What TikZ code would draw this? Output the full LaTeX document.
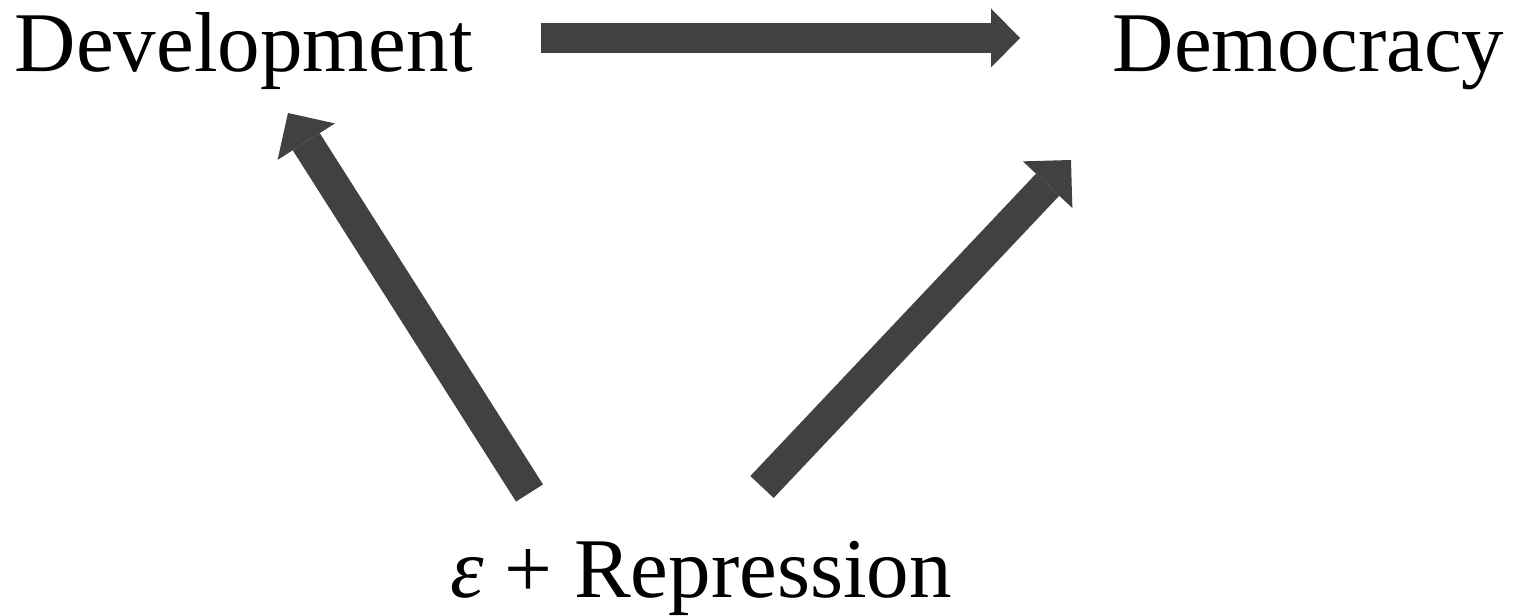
\documentclass[tikz,border=0pt]{standalone}
\usepackage{fontspec}
\setmainfont{Liberation Serif}
\usetikzlibrary{arrows.meta}
\definecolor{arrowgray}{RGB}{65,65,65}
\tikzset{
  label text/.style={anchor=base west, inner sep=0pt, font=\fontsize{85}{100}\selectfont},
  flow/.style={draw=arrowgray, line width=30pt, line cap=butt,
    -{Triangle[width=59pt,length=29pt,line width=0pt]}},
  flowdiag/.style={draw=arrowgray, line width=32pt, line cap=butt,
    -{Triangle[width=68pt,length=34pt,line width=0pt]}}
}
\begin{document}
\begin{tikzpicture}[x=1pt,y=1pt]
  \useasboundingbox (0,0) rectangle (1516,616);
  % variables
  \node[label text] (dev) at (14.5,544) {Development};
  \node[label text] (dem) at (1112.5,544) {Democracy};
  \node[label text] (rep) at (450,18) {\textit{ε} + Repression};
  % arrow end points
  \coordinate (dev-out) at (541,578);
  \coordinate (dem-in)  at (1020,578);
  \coordinate (rep-left)  at (529.5,123);
  \coordinate (dev-in)    at (288,503);
  \coordinate (rep-right) at (762,129);
  \coordinate (dem-in2)   at (1071,456);
  % causal arrows
  \draw[flow] (dev-out) -- (dem-in);
  \draw[flowdiag] (rep-left) -- (dev-in);
  \draw[flowdiag] (rep-right) -- (dem-in2);
\end{tikzpicture}
\end{document}
